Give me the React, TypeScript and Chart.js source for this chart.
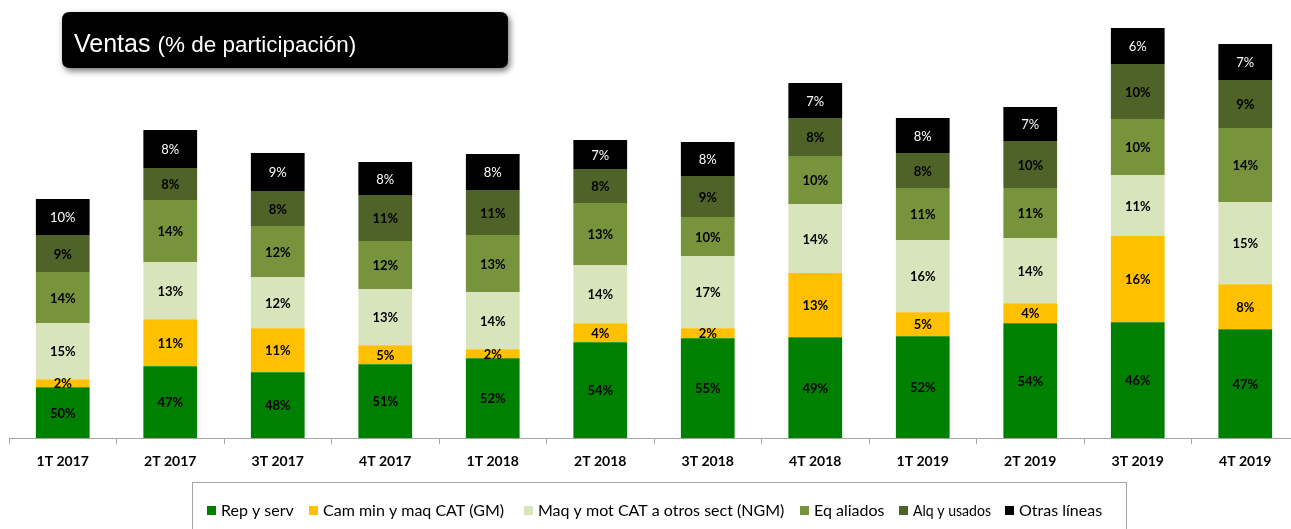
import React, { useEffect, useRef } from "react";
import { Chart, registerables } from "chart.js";

Chart.register(...registerables);

// Quarters
const categories = ["1T 2017", "2T 2017", "3T 2017", "4T 2017", "1T 2018", "2T 2018", "3T 2018", "4T 2018", "1T 2019", "2T 2019", "3T 2019", "4T 2019"];

// Segment sizes as drawn (relative units)
const repServ = [51, 72, 66, 74, 80, 96, 100, 101, 102, 115, 116, 109];
const camMin = [8, 47, 44, 19, 9, 19, 10, 64, 24, 20, 86, 45];
const maqMot = [56, 57, 51, 56, 57, 58, 72, 69, 72, 65, 61, 82];
const eqAliados = [51, 62, 51, 48, 57, 62, 39, 48, 52, 50, 56, 74];
const alqUsados = [37, 32, 35, 46, 45, 34, 41, 38, 35, 47, 55, 48];
const otras = [36, 38, 38, 33, 36, 29, 34, 35, 35, 34, 36, 36];

// Percent labels (% de participación)
const repServPct = [50, 47, 48, 51, 52, 54, 55, 49, 52, 54, 46, 47];
const camMinPct = [2, 11, 11, 5, 2, 4, 2, 13, 5, 4, 16, 8];
const maqMotPct = [15, 13, 12, 13, 14, 14, 17, 14, 16, 14, 11, 15];
const eqAliadosPct = [14, 14, 12, 12, 13, 13, 10, 10, 11, 11, 10, 14];
const alqUsadosPct = [9, 8, 8, 11, 11, 8, 9, 8, 8, 10, 10, 9];
const otrasPct = [10, 8, 9, 8, 8, 7, 8, 7, 8, 7, 6, 7];

const seriesNames = ["Rep y serv", "Cam min y maq CAT (GM)", "Maq y mot CAT a otros sect (NGM)", "Eq aliados", "Alq y usados", "Otras líneas"];
const seriesColors = ["#008000", "#FFC000", "#D8E4BC", "#77933C", "#4F6228", "#000000"];

const FONT = "Lato, 'Open Sans', sans-serif";

export default function App() {
  const ref = useRef<HTMLCanvasElement | null>(null);

  useEffect(() => {
    if (!ref.current) return;
    const values = [repServ, camMin, maqMot, eqAliados, alqUsados, otras];
    const pcts = [repServPct, camMinPct, maqMotPct, eqAliadosPct, alqUsadosPct, otrasPct];

    const labelPlugin = {
      id: "segLabels",
      afterDatasetsDraw(chart: any) {
        const ctx = chart.ctx;
        ctx.save();
        ctx.textAlign = "center";
        ctx.textBaseline = "middle";
        chart.data.datasets.forEach((ds: any, di: number) => {
          const meta = chart.getDatasetMeta(di);
          meta.data.forEach((el: any, i: number) => {
            const cy = (el.y + el.base) / 2;
            const isBlack = di === 5;
            ctx.fillStyle = isBlack ? "#FFFFFF" : "#000000";
            ctx.font = (isBlack ? "" : "bold ") + "13px " + FONT;
            ctx.fillText(pcts[di][i] + "%", el.x, cy + 1);
          });
        });
        ctx.restore();
      },
      afterDraw(chart: any) {
        const ctx = chart.ctx;
        ctx.save();
        // Title box
        ctx.shadowColor = "rgba(0,0,0,0.55)";
        ctx.shadowBlur = 6;
        ctx.shadowOffsetX = 2;
        ctx.shadowOffsetY = 3;
        ctx.fillStyle = "#000000";
        const bx = 62, by = 12, bw = 446, bh = 56, r = 8;
        ctx.beginPath();
        ctx.moveTo(bx + r, by);
        ctx.lineTo(bx + bw - r, by);
        ctx.quadraticCurveTo(bx + bw, by, bx + bw, by + r);
        ctx.lineTo(bx + bw, by + bh - r);
        ctx.quadraticCurveTo(bx + bw, by + bh, bx + bw - r, by + bh);
        ctx.lineTo(bx + r, by + bh);
        ctx.quadraticCurveTo(bx, by + bh, bx, by + bh - r);
        ctx.lineTo(bx, by + r);
        ctx.quadraticCurveTo(bx, by, bx + r, by);
        ctx.closePath();
        ctx.fill();
        ctx.shadowColor = "transparent";
        ctx.fillStyle = "#FFFFFF";
        ctx.textBaseline = "alphabetic";
        ctx.textAlign = "left";
        ctx.font = "25px 'Liberation Sans', Arial, sans-serif";
        ctx.fillText("Ventas", 74, 52);
        const w = ctx.measureText("Ventas ").width;
        ctx.font = "22.5px 'Liberation Sans', Arial, sans-serif";
        ctx.fillText("(% de participación)", 74 + w, 52);

        // Legend box
        ctx.strokeStyle = "#A6A6A6";
        ctx.lineWidth = 1;
        ctx.strokeRect(192.5, 482.5, 934, 60);
        const starts = [207, 309, 524, 800, 899, 1005];
        const maxW = [73, 183, 250, 74, 78, 96];
        ctx.font = "16px " + FONT;
        ctx.textBaseline = "middle";
        seriesNames.forEach((name, i) => {
          ctx.fillStyle = seriesColors[i];
          ctx.fillRect(starts[i], 506, 9, 9);
          ctx.fillStyle = "#000000";
          ctx.fillText(name, starts[i] + 14, 511, maxW[i]);
        });
        ctx.restore();
      },
    };

    const chart = new Chart(ref.current, {
      type: "bar",
      data: {
        labels: categories,
        datasets: values.map((v, i) => ({
          label: seriesNames[i],
          data: v,
          backgroundColor: seriesColors[i],
          borderWidth: 0,
          barPercentage: 0.5,
          categoryPercentage: 1,
        })),
      },
      options: {
        responsive: false,
        animation: false,
        layout: { padding: { top: 27, left: 9, right: 1, bottom: 50 } },
        plugins: { legend: { display: false }, tooltip: { enabled: false }, title: { display: false } },
        scales: {
          x: {
            stacked: true,
            grid: { display: true, drawOnChartArea: false, drawTicks: true, tickLength: 6, color: "#A6A6A6", offset: true },
            border: { display: true, color: "#A6A6A6" },
            ticks: { color: "#000000", font: { family: FONT, size: 14, weight: "bold" }, padding: 9, maxRotation: 0 },
          },
          y: { stacked: true, display: false, min: 0, max: 411 },
        },
      },
      plugins: [labelPlugin],
    });
    return () => chart.destroy();
  }, []);

  return (
    <div style={{ position: "fixed", left: 0, top: 0, width: 1291, height: 529, overflow: "hidden", background: "#fff" }}>
      <canvas ref={ref} width={1300} height={529} style={{ width: 1300, height: 529, display: "block" }} />
    </div>
  );
}
